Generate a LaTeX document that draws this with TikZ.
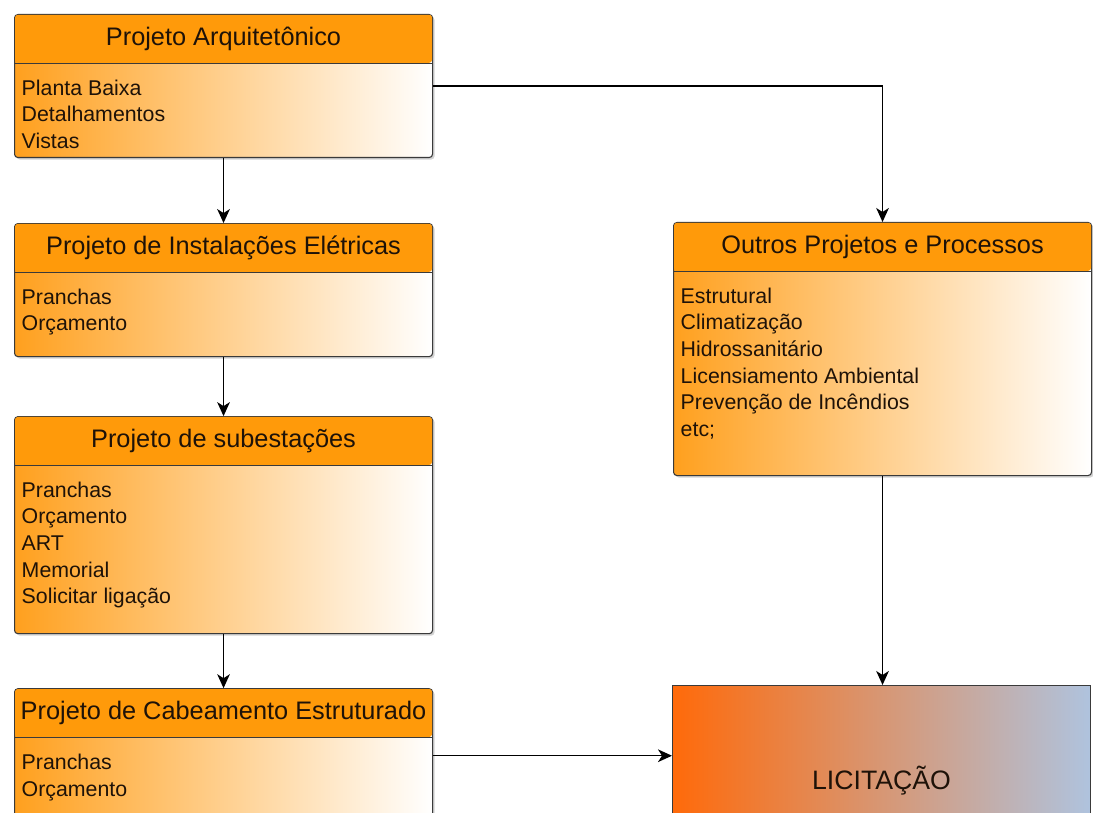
\documentclass[tikz,border=0pt]{standalone}
\usepackage{fontspec}
\setmainfont{Liberation Sans}
\usetikzlibrary{positioning,arrows.meta,shadows}
\definecolor{boxOrange}{HTML}{FF9A0A}
\definecolor{bodyOrange}{HTML}{FFA01E}
\definecolor{boxLine}{HTML}{3A3A3A}
\definecolor{licOrange}{HTML}{FF6A0A}
\definecolor{licBlue}{HTML}{AFC3DE}
\definecolor{textDark}{HTML}{1E1208}

\begin{document}
\begin{tikzpicture}[
  x=0.75pt, y=-0.75pt,
  panel/.style={rectangle, rounded corners=2.5pt, draw=boxLine, line width=0.8pt,
    left color=bodyOrange, right color=white, minimum width=313.5pt, inner sep=0pt,
    drop shadow={shadow xshift=1.5pt, shadow yshift=-1.5pt, opacity=0.35}},
  panelhead/.style={rectangle, rounded corners=2.1pt, fill=boxOrange, anchor=north,
    minimum width=312.7pt, minimum height=36pt, inner sep=0pt,
    font=\fontsize{19}{23}\selectfont, text=textDark},
  sep/.style={line width=0.8pt, boxLine},
  itemlist/.style={anchor=north west, inner sep=0pt, align=left,
    font=\fontsize{16}{20}\selectfont, text=textDark},
  arrow/.style={-{Stealth[length=10.5pt, width=9.5pt, inset=3pt]}, line width=1.1pt, black},
]
\useasboundingbox (0,0) rectangle (1093,813);

% Left column
\node[panel, minimum height=107.25pt, anchor=north west] (arq) at (14,14) {};
\node[panelhead] (arq-head) at ([yshift=-0.4pt]arq.north) {Projeto Arquitetônico};
\draw[sep] (arq-head.south west) -- (arq-head.south east);
\node[itemlist] (arq-list) at ([xshift=5pt, yshift=-12.3pt]arq-head.south west)
  {Planta Baixa\\Detalhamentos\\Vistas};

\node[panel, minimum height=99.75pt, below=48.75pt of arq] (ele) {};
\node[panelhead] (ele-head) at ([yshift=-0.4pt]ele.north) {Projeto de Instalações Elétricas};
\draw[sep] (ele-head.south west) -- (ele-head.south east);
\node[itemlist] (ele-list) at ([xshift=5pt, yshift=-12.3pt]ele-head.south west)
  {Pranchas\\Orçamento};

\node[panel, minimum height=162.75pt, below=44.25pt of ele] (sub) {};
\node[panelhead] (sub-head) at ([yshift=-0.4pt]sub.north) {Projeto de subestações};
\draw[sep] (sub-head.south west) -- (sub-head.south east);
\node[itemlist] (sub-list) at ([xshift=5pt, yshift=-12.3pt]sub-head.south west)
  {Pranchas\\Orçamento\\ART\\Memorial\\Solicitar ligação};

\node[panel, minimum height=100.5pt, below=40.5pt of sub] (cab) {};
\node[panelhead] (cab-head) at ([yshift=-0.4pt]cab.north) {Projeto de Cabeamento Estruturado};
\draw[sep] (cab-head.south west) -- (cab-head.south east);
\node[itemlist] (cab-list) at ([xshift=5pt, yshift=-12.3pt]cab-head.south west)
  {Pranchas\\Orçamento};

% Right column
\node[panel, minimum height=189.75pt, anchor=north west] (out) at (673,222) {};
\node[panelhead] (out-head) at ([yshift=-0.4pt]out.north) {Outros Projetos e Processos};
\draw[sep] (out-head.south west) -- (out-head.south east);
\node[itemlist] (out-list) at ([xshift=5pt, yshift=-12.3pt]out-head.south west)
  {Estrutural\\Climatização\\Hidrossanitário\\Licensiamento Ambiental\\Prevenção de Incêndios\\etc;};

\node[rectangle, draw=boxLine, line width=0.8pt, left color=licOrange, right color=licBlue,
  minimum width=313.5pt, minimum height=142.5pt, anchor=north west,
  font=\fontsize{20}{24}\selectfont, text=textDark] (lic) at (672,685) {LICITAÇÃO};

% Connectors
\draw[arrow] (arq) -- (ele);
\draw[arrow] (ele) -- (sub);
\draw[arrow] (sub) -- (cab);
\draw[arrow] (arq.east) -| (out.north);
\draw[arrow] (out.south) -- (out.south |- lic.north);
\draw[arrow] (cab.east) -- (cab.east -| lic.west);
\end{tikzpicture}
\end{document}
